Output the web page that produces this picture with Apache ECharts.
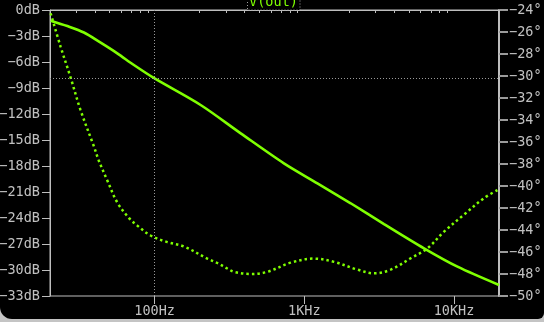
<!DOCTYPE html>
<html>
<head>
<meta charset="utf-8">
<script src="https://cdn.jsdelivr.net/npm/echarts@6/dist/echarts.min.js"></script>
<style>
html,body{margin:0;padding:0;background:#c4c4c4;width:544px;height:322px;overflow:hidden;}
#wrap{position:absolute;left:0;top:0;width:544px;height:319px;background:#000;border-radius:0 0 6px 12px;overflow:hidden;}
#chart{width:544px;height:319px;}
</style>
</head>
<body>
<div id="wrap"><div id="chart"></div></div>
<script>
// Magnitude (left axis, dB)
const magFreq = [20.2, 26.1, 33.7, 43.6, 56.3, 72.7, 100, 203, 376, 731, 1224, 2042, 3411, 6310, 10554, 20000];
const magDb   = [-1.23, -1.85, -2.6, -3.77, -5.0, -6.35, -7.9, -10.96, -14.23, -17.69, -20.0, -22.3, -24.7, -27.5, -29.62, -31.73];
// Phase (right axis, degrees)
const phaseFreq = [20.2, 23.5, 27.4, 32.0, 39.3, 42.4, 48.3, 56.3, 67.3, 76.6, 94, 121.6, 157, 225, 262, 306, 339, 438, 567, 811, 1161, 1581, 2264, 2924, 3784, 5145, 6653, 8590, 11690, 15890, 20000];
const phaseDeg  = [-24.3, -27.3, -30.1, -33.1, -36.4, -37.7, -39.5, -41.5, -42.9, -43.6, -44.5, -45.1, -45.5, -46.6, -47.0, -47.5, -47.8, -48.0, -47.8, -46.97, -46.6, -46.9, -47.6, -47.94, -47.6, -46.57, -45.66, -44.15, -42.6, -41.1, -40.3];
// Axis ticks
const minorTickFreqs = [20,30,40,50,60,70,80,90,200,300,400,500,600,700,800,900,2000,3000,4000,5000,6000,7000,8000,9000,20000];
const majorTickFreqs = [100, 1000, 10000];
const majorTickLabels = ['100Hz', '1KHz', '10KHz'];
const cursorFreq = 100;
const cursorDb = -7.9;
const traceName = 'V(out)';

const L = Math.log10;
const green = '#7fff00';
const gray = '#bebebe';
const font = 'DejaVu Sans Mono';
const fsize = 13.5;
const magData = magFreq.map((f, i) => [L(f), magDb[i]]);
const phaseData = phaseFreq.map((f, i) => [L(f), phaseDeg[i]]);
const xMin = L(20), xMax = L(20000);

const chart = echarts.init(document.getElementById('chart'), null, {renderer: 'canvas'});
chart.setOption({
  backgroundColor: 'transparent',
  animation: false,
  grid: {left: 50, right: 45, top: 10, bottom: 23, containLabel: false, outerBoundsMode: 'none',
    show: true, borderColor: gray, borderWidth: 1, backgroundColor: 'transparent'},
  xAxis: [
    {
      type: 'value', min: xMin, max: xMax, position: 'bottom',
      axisLine: {show: true, lineStyle: {color: gray, width: 1}},
      axisTick: {show: true, length: 3, lineStyle: {color: gray}, customValues: minorTickFreqs.map(L)},
      axisLabel: {show: false},
      splitLine: {show: false}
    },
    {
      type: 'value', min: xMin, max: xMax, position: 'bottom',
      axisLine: {show: false},
      axisTick: {show: true, length: 8, lineStyle: {color: gray}, customValues: majorTickFreqs.map(L)},
      axisLabel: {
        show: true, margin: 8, color: '#c0c0c0', fontFamily: font, fontSize: fsize,
        customValues: majorTickFreqs.map(L),
        formatter: v => { const i = majorTickFreqs.findIndex(f => Math.abs(L(f) - v) < 1e-6); return i >= 0 ? majorTickLabels[i] : ''; }
      },
      splitLine: {show: false}
    }
  ],
  yAxis: [
    {
      type: 'value', min: -33, max: 0, interval: 3, position: 'left',
      axisLine: {show: true, lineStyle: {color: gray, width: 1}},
      axisTick: {show: true, length: 8, lineStyle: {color: gray}},
      axisLabel: {margin: 10, color: '#c0c0c0', fontFamily: font, fontSize: fsize,
        formatter: v => (v < 0 ? '\u2212' + Math.abs(v) : v) + 'dB'},
      splitLine: {show: false}
    },
    {
      type: 'value', min: -50, max: -24, interval: 2, position: 'right',
      axisLine: {show: true, lineStyle: {color: gray, width: 2}},
      axisTick: {show: true, length: 9, lineStyle: {color: '#9a9a9a', width: 2}},
      axisLabel: {margin: 10, color: '#c0c0c0', fontFamily: font, fontSize: fsize,
        formatter: v => (v < 0 ? '\u2212' + Math.abs(v) : v) + '\u00b0'},
      splitLine: {show: false}
    }
  ],
  series: [
    {
      name: 'magnitude', type: 'line', xAxisIndex: 0, yAxisIndex: 0, data: magData,
      smooth: 0.3, showSymbol: false, symbol: 'none',
      lineStyle: {color: green, width: 2.6},
      markLine: {
        silent: true, symbol: ['none', 'none'], label: {show: false},
        lineStyle: {color: '#9a9a9a', width: 1, type: [1, 2]},
        data: [{xAxis: L(cursorFreq)}, {yAxis: cursorDb}]
      },
      z: 3
    },
    {
      name: 'phase', type: 'line', xAxisIndex: 0, yAxisIndex: 1, data: phaseData,
      smooth: 0.35, showSymbol: false, symbol: 'none',
      lineStyle: {color: green, width: 2.5, type: [2.5, 3], cap: 'butt'},
      z: 3
    }
  ],
  graphic: [
    {type: 'rect', z: 100, shape: {x: 247.5, y: -4, width: 52.5, height: 14}, style: {fill: '#000', stroke: '#a0a0a0', lineWidth: 1, lineDash: [1, 2]}},
    {type: 'text', z: 101, x: 273.5, y: 2.5, style: {text: traceName, fill: green, font: '13.5px "DejaVu Sans Mono"', align: 'center', verticalAlign: 'middle'}}
  ]
});
</script>
</body>
</html>
